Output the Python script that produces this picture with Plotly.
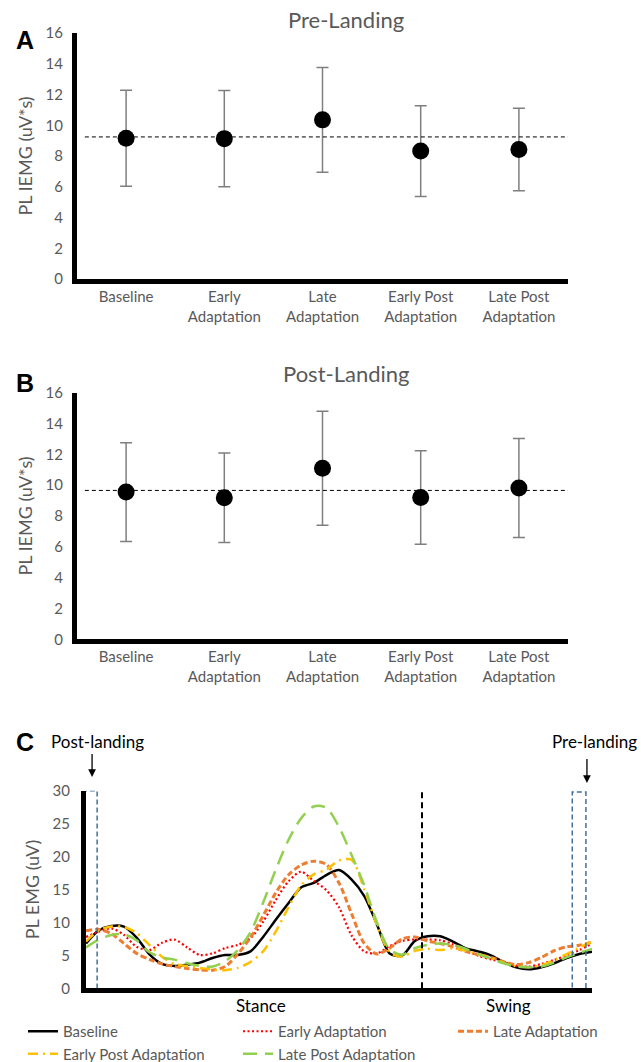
import plotly.graph_objects as go

# ---------------- data ----------------
CATEGORIES = ["Baseline", "Early<br>Adaptation", "Late<br>Adaptation",
              "Early Post<br>Adaptation", "Late Post<br>Adaptation"]
PRE_MEAN = [9.16, 9.13, 10.35, 8.32, 8.42]
PRE_ERR = [3.12, 3.13, 3.40, 2.95, 2.68]
PRE_REF = 9.24
POST_MEAN = [9.55, 9.18, 11.1, 9.20, 9.82]
POST_ERR = [3.20, 2.90, 3.70, 3.03, 3.21]
POST_REF = 9.66

GAIT_PCT = [0, 2.5, 5, 7.5, 10, 12.5, 15, 17.5, 20, 22.5, 25, 27.5, 30, 32.5, 35,
            37.5, 40, 42.5, 45, 47.5, 50, 52.5, 55, 57.5, 60, 62.5, 65, 67.5, 70,
            72.5, 75, 77.5, 80, 82.5, 85, 87.5, 90, 92.5, 95, 97.5, 100]
BASELINE = [6.8, 8.8, 9.45, 9.35, 7.7, 5.2, 3.7, 3.4, 3.6, 3.9, 4.6, 5.05, 5.05, 5.6, 7.8,
            10.4, 12.9, 15.3, 16.0, 17.2, 17.95, 16.5, 14.0, 9.7, 5.3, 5.0, 7.2, 7.9, 7.9,
            7.1, 6.1, 5.6, 5.0, 4.0, 3.2, 2.9, 3.2, 3.8, 4.6, 5.2, 5.55]
EARLY_ADAPT = [7.8, 8.6, 9.1, 8.1, 6.3, 5.8, 6.9, 7.4, 6.2, 5.05, 5.3, 6.1, 6.6, 7.6, 10.1,
               13.4, 16.2, 17.7, 16.3, 14.9, 12.3, 8.0, 5.6, 5.3, 6.4, 7.2, 7.4, 7.4, 7.3,
               6.7, 5.8, 4.95, 4.4, 3.9, 3.45, 3.3, 3.7, 4.3, 5.0, 5.8, 6.8]
LATE_ADAPT = [8.75, 8.95, 8.3, 6.8, 5.3, 4.4, 3.7, 3.3, 3.0, 2.8, 2.75, 3.3, 5.2, 7.7, 11.0,
              14.5, 17.2, 18.7, 19.3, 18.8, 16.0, 11.3, 6.8, 5.2, 6.1, 7.5, 7.8, 7.2, 6.8,
              6.3, 5.6, 5.1, 4.7, 4.05, 3.6, 3.9, 4.7, 5.7, 6.3, 6.55, 7.0]
EARLY_POST = [7.1, 8.8, 9.4, 9.3, 8.4, 6.6, 4.8, 3.7, 3.35, 3.1, 2.85, 2.75, 3.1, 4.0, 5.6,
              8.6, 12.3, 15.6, 17.3, 18.0, 19.4, 19.5, 15.0, 9.6, 5.5, 4.8, 5.7, 6.0, 5.8,
              6.05, 5.7, 5.2, 4.6, 3.9, 3.35, 3.2, 3.5, 4.3, 5.2, 6.2, 7.1]
LATE_POST = [6.2, 7.4, 8.1, 8.2, 7.3, 5.5, 4.7, 4.35, 3.8, 3.4, 3.3, 4.1, 5.8, 8.5, 13.0,
             18.0, 22.5, 25.8, 27.6, 27.4, 24.5, 20.2, 15.6, 10.0, 5.9, 5.1, 6.1, 6.6, 6.8,
             6.6, 6.0, 5.2, 4.5, 3.8, 3.3, 3.2, 3.3, 3.9, 4.7, 5.4, 5.96]
STANCE_END = 66.4
POST_WINDOW = [-0.6, 2.2]
PRE_WINDOW = [96.1, 98.8]

# ---------------- style ----------------
GRAY = "#595959"
FONT = "Lato"
W, H = 641, 1062


def px_x(p):
    return p / W


def px_y(p):
    return 1 - p / H


fig = go.Figure()

for mean, err, ax in [(PRE_MEAN, PRE_ERR, ""), (POST_MEAN, POST_ERR, "2")]:
    fig.add_trace(go.Scatter(
        x=list(range(len(CATEGORIES))), y=mean, mode="markers",
        marker=dict(color="black", size=17),
        error_y=dict(type="data", array=err, color="#7f7f7f", thickness=1.5, width=6),
        xaxis="x" + ax, yaxis="y" + ax, showlegend=False, hoverinfo="y"))

series = [
    ("Baseline", BASELINE, "black", "solid", 2.5),
    ("Early Adaptation", EARLY_ADAPT, "#FF0000", "2px,2.5px", 2.2),
    ("Late Adaptation", LATE_ADAPT, "#ED7D31", "6px,3px", 3),
    ("Early Post Adaptation", EARLY_POST, "#FFC000", "10px,5px,2px,5px", 2.5),
    ("Late Post Adaptation", LATE_POST, "#92D050", "14px,8px", 2.5),
]
for name, vals, col, dash, wdt in series:
    fig.add_trace(go.Scatter(
        x=GAIT_PCT, y=vals, mode="lines", name=name,
        line=dict(color=col, dash=dash, width=wdt, shape="spline", smoothing=0.8),
        xaxis="x3", yaxis="y3"))

xdom = [px_x(77), px_x(568)]
tickfont = dict(family=FONT, size=15, color=GRAY)
bar_x = dict(domain=xdom, range=[-0.5, 4.5], tickvals=list(range(5)), ticktext=CATEGORIES,
             showline=True, linecolor="black", linewidth=5, ticks="", showgrid=False,
             zeroline=False, tickfont=tickfont, fixedrange=True, automargin=False)
bar_y = dict(range=[0, 16], dtick=2, showline=True, linecolor="black", linewidth=5,
             ticks="", showgrid=False, zeroline=False, tickfont=tickfont,
             ticklabelstandoff=6, automargin=False,
             title=dict(text="PL IEMG (uV*s)", font=dict(family=FONT, size=18, color=GRAY),
                        standoff=10))

fig.update_layout(
    width=W, height=H, margin=dict(l=0, r=0, t=0, b=0, autoexpand=False),
    plot_bgcolor="white", paper_bgcolor="white",
    font=dict(family=FONT, color=GRAY),
    xaxis=dict(bar_x, anchor="y"),
    yaxis=dict(bar_y, domain=[px_y(279), px_y(33)], anchor="x"),
    xaxis2=dict(bar_x, anchor="y2"),
    yaxis2=dict(bar_y, domain=[px_y(639.3), px_y(392.7)], anchor="x2"),
    xaxis3=dict(domain=[px_x(86), px_x(592)], range=[0, 100], showline=True,
                linecolor="black", linewidth=5, ticks="", showticklabels=False,
                showgrid=False, zeroline=False, anchor="y3", automargin=False),
    yaxis3=dict(domain=[px_y(988.3), px_y(790.7)], range=[0, 30], dtick=5, showline=True,
                linecolor="black", linewidth=5, ticks="", showgrid=False, zeroline=False,
                tickfont=tickfont, ticklabelstandoff=8, anchor="x3", automargin=False,
                title=dict(text="PL EMG (uV)", font=dict(family=FONT, size=18, color=GRAY),
                           standoff=10)),
    legend=dict(orientation="h", x=px_x(23), y=px_y(1070), xanchor="left", yanchor="bottom",
                entrywidth=170, entrywidthmode="pixels", tracegroupgap=0,
                font=dict(family=FONT, size=15, color=GRAY), bgcolor="rgba(0,0,0,0)"),
    showlegend=True,
)

shapes = [
    dict(type="line", xref="x", yref="y", x0=-0.42, x1=4.5, y0=PRE_REF, y1=PRE_REF,
         line=dict(color="black", width=1, dash="4px,3px")),
    dict(type="line", xref="x2", yref="y2", x0=-0.42, x1=4.5, y0=POST_REF, y1=POST_REF,
         line=dict(color="black", width=1, dash="4px,3px")),
    dict(type="line", xref="x3", yref="y3", x0=STANCE_END, x1=STANCE_END, y0=0, y1=30.4,
         line=dict(color="black", width=2, dash="6px,4px")),
    dict(type="rect", xref="x3", yref="y3", x0=POST_WINDOW[0], x1=POST_WINDOW[1], y0=-0.3,
         y1=30, line=dict(color="#41719C", width=1.5, dash="5px,3px")),
    dict(type="rect", xref="x3", yref="y3", x0=PRE_WINDOW[0], x1=PRE_WINDOW[1], y0=-0.3,
         y1=29.8, line=dict(color="#41719C", width=1.5, dash="5px,3px")),
]
fig.update_layout(shapes=shapes)

ann = []
for txt, x, y in [("A", 25, 40), ("B", 25, 383), ("C", 25, 742)]:
    ann.append(dict(text="<b>" + txt + "</b>", x=px_x(x), y=px_y(y), xref="paper",
                    yref="paper", showarrow=False, xanchor="center", yanchor="middle",
                    font=dict(family="Liberation Sans", size=25, color="black")))
for txt, y in [("Pre-Landing", 20), ("Post-Landing", 373)]:
    ann.append(dict(text=txt, x=px_x(346), y=px_y(y), xref="paper", yref="paper",
                    showarrow=False, xanchor="center", yanchor="middle",
                    font=dict(family=FONT, size=22, color=GRAY)))
for txt, x in [("Post-landing", 97), ("Pre-landing", 594)]:
    ann.append(dict(text=txt, x=px_x(x), y=px_y(741), xref="paper", yref="paper",
                    showarrow=False, xanchor="center", yanchor="middle",
                    font=dict(family=FONT, size=17, color="black")))
# arrows pointing to the post-/pre-landing windows
for x, tip, ay in [(1.2, 777, -25), (99.0, 783, -26)]:
    ann.append(dict(text=" ", x=x, y=px_y(tip), xref="x3", yref="paper", showarrow=True,
                    ax=0, ay=ay, font=dict(size=1), arrowhead=2, arrowsize=1.2,
                    arrowwidth=1.3, arrowcolor="black", standoff=0, startstandoff=0))
for txt, x in [("Stance", 34.6), ("Swing", 83.4)]:
    ann.append(dict(text=txt, x=x, y=px_y(1005), xref="x3", yref="paper", showarrow=False,
                    xanchor="center", yanchor="middle",
                    font=dict(family=FONT, size=17, color="black")))
fig.update_layout(annotations=ann)

fig.write_html("out.html", config={"displayModeBar": False},
               post_script="document.body.style.margin='0';")
